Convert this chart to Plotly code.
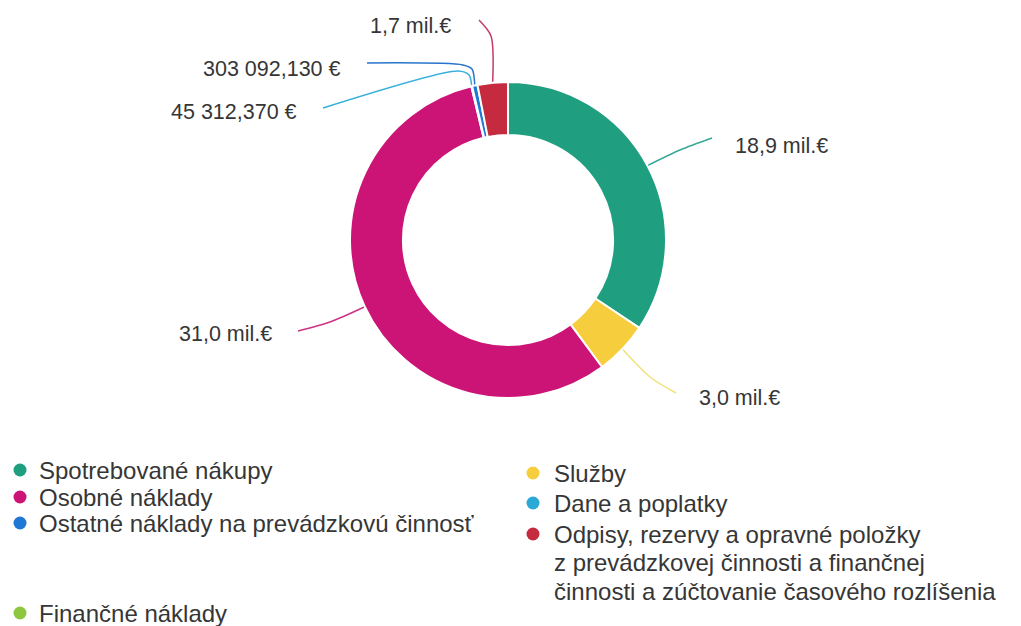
import math
import plotly.graph_objects as go

# ---------------- data ----------------
categories = [
    "Spotrebované nákupy",
    "Služby",
    "Osobné náklady",
    "Dane a poplatky",
    "Ostatné náklady na prevádzkovú činnosť",
    "Odpisy, rezervy a opravné položky z prevádzkovej činnosti a finančnej činnosti a zúčtovanie časového rozlíšenia",
    "Finančné náklady",
]
values_eur = [18_900_000, 3_000_000, 31_000_000, 45_312.37, 303_092.13, 1_700_000, 0]
value_labels = ["18,9 mil.€", "3,0 mil.€", "31,0 mil.€", "45 312,370 €", "303 092,130 €", "1,7 mil.€", ""]
legend_lines = [
    ["Spotrebované nákupy"],
    ["Služby"],
    ["Osobné náklady"],
    ["Dane a poplatky"],
    ["Ostatné náklady na prevádzkovú činnosť"],
    ["Odpisy, rezervy a opravné položky", "z prevádzkovej činnosti a finančnej", "činnosti a zúčtovanie časového rozlíšenia"],
    ["Finančné náklady"],
]

# ---------------- style ----------------
colors = ["#1f9f80", "#f6cd3c", "#cc1477", "#2aa8d6", "#1f78d3", "#c52a3f", "#8dc63f"]
line_colors = ["#3aa896", "#f2e27a", "#cc3385", "#38b0dc", "#2a74cc", "#c23a6a", "#8dc63f"]
WIN_W, WIN_H = 1021, 626
OFF = 8                      # default body margin of the page
FW, FH = WIN_W - OFF, WIN_H - OFF
CX, CY, R = 508, 240, 158    # window pixel coordinates
TEXT = "#363636"
FONT = "Liberation Sans, Arial, sans-serif"

# callout waypoints (after the anchor on the ring) and label placement
callouts = {
    0: dict(path=[(680, 150), (712, 138)], text=(733, 146), anchor="left"),
    1: dict(path=[(650, 377), (676, 393)], text=(697, 398), anchor="left"),
    2: dict(path=[(330, 322), (298, 331)], text=(274, 334), anchor="right"),
    3: dict(path=[(469, 75), (458, 71), (323, 108)], text=(299, 112), anchor="right"),
    4: dict(path=[(472, 69), (463, 65), (367, 63)], text=(343, 69), anchor="right"),
    5: dict(path=[(491, 36), (479, 20)], text=(453, 26), anchor="right"),
}
legend_pos = [(20, 470, 37), (533, 473, 552), (20, 497, 37), (533, 503, 552),
              (20, 523, 37), (533, 534, 552), (20, 613, 37)]
LEG_LINE = 28.5

fig = go.Figure()

fig.add_trace(go.Pie(
    labels=categories, values=values_eur, hole=0.665, sort=False,
    direction="clockwise", rotation=0,
    marker=dict(colors=colors, line=dict(color="white", width=2)),
    textinfo="none", showlegend=False, hoverinfo="label+value",
    domain=dict(x=[(CX - R - OFF) / FW, (CX + R - OFF) / FW],
                y=[1 - (CY + R - OFF) / FH, 1 - (CY - R - OFF) / FH]),
))

total = sum(values_eur)
cum = 0.0
annotations = []
for i, v in enumerate(values_eur):
    mid = (cum + v / 2) / total * 2 * math.pi
    cum += v
    if i not in callouts:
        continue
    ax = CX + R * math.sin(mid)
    ay = CY - R * math.cos(mid)
    c = callouts[i]
    xs = [ax] + [p[0] for p in c["path"]]
    ys = [ay] + [p[1] for p in c["path"]]
    fig.add_trace(go.Scatter(x=xs, y=ys, mode="lines", showlegend=False, hoverinfo="skip",
                             line=dict(color=line_colors[i], width=1.5, shape="spline", smoothing=0.8)))
    annotations.append(dict(x=c["text"][0], y=c["text"][1], xref="x", yref="y", text=value_labels[i],
                            showarrow=False, xanchor=c["anchor"], yanchor="middle",
                            font=dict(size=21.5, color=TEXT, family=FONT)))

# manual legend
for i, cat in enumerate(categories):
    mx, my, tx = legend_pos[i]
    fig.add_trace(go.Scatter(x=[mx], y=[my], mode="markers", showlegend=False, hoverinfo="skip",
                             marker=dict(size=13, color=colors[i])))
    for k, ln in enumerate(legend_lines[i]):
        annotations.append(dict(x=tx, y=my + k * LEG_LINE, xref="x", yref="y", text=ln,
                                showarrow=False, xanchor="left", yanchor="middle",
                                font=dict(size=24, color=TEXT, family=FONT)))

fig.update_layout(
    width=FW, height=FH, margin=dict(l=0, r=0, t=0, b=0),
    paper_bgcolor="white", plot_bgcolor="white",
    xaxis=dict(range=[OFF, WIN_W], visible=False, fixedrange=True, domain=[0, 1]),
    yaxis=dict(range=[WIN_H, OFF], visible=False, fixedrange=True, domain=[0, 1]),
    annotations=annotations, showlegend=False,
)

fig.write_html("out.html")
